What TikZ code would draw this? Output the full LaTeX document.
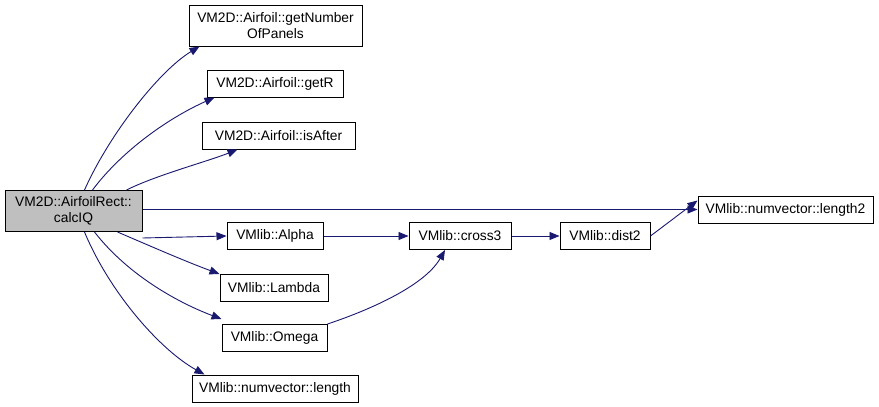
\documentclass[tikz,border=0pt]{standalone}
\usepackage{fontspec}
\setmainfont{Liberation Sans}
\usetikzlibrary{arrows.meta}
\definecolor{edgeblue}{HTML}{191970}
\definecolor{curgray}{HTML}{BFBFBF}
\begin{document}
\begin{tikzpicture}[x=1pt,y=-1pt,
  box/.style={draw=black, line width=1pt, fill=white, inner sep=0pt, align=center,
    font=\fontsize{13.8}{16}\selectfont, minimum height=27pt},
  edge/.style={draw=edgeblue, line width=0.9pt, -{Triangle[length=10pt,width=8pt]}, fill=none},
  ]
\useasboundingbox[fill=white] (0,0) rectangle (879,407);
\node[box, fill=curgray, minimum width=137pt, minimum height=41pt] (calc) at (73.5,211) {VM2D::AirfoilRect::\\calcIQ};
\node[box, minimum width=173pt, minimum height=41pt] (gnop) at (275.5,25.5) {VM2D::Airfoil::getNumber\\OfPanels};
\node[box, minimum width=136pt] (getr) at (275,83.5) {VM2D::Airfoil::getR};
\node[box, minimum width=153pt] (isafter) at (278.5,135.5) {VM2D::Airfoil::isAfter};
\node[box, minimum width=96pt] (alpha) at (275,236) {VMlib::Alpha};
\node[box, minimum width=108pt] (lambda) at (274,288) {VMlib::Lambda};
\node[box, minimum width=105pt] (omega) at (274.5,338) {VMlib::Omega};
\node[box, minimum width=166pt] (length) at (275,388.5) {VMlib::numvector::length};
\node[box, minimum width=102pt] (cross) at (460,236) {VMlib::cross3};
\node[box, minimum width=90pt] (dist) at (605,236) {VMlib::dist2};
\node[box, minimum width=175pt] (length2) at (785.5,209.5) {VMlib::numvector::length2};

\draw[edge] ([xshift=80pt]calc.north west) .. controls +(25,-56) and +(-40,24) .. ([xshift=11pt]gnop.south west);
\draw[edge] ([xshift=88pt]calc.north west) .. controls +(30,-40) and +(-45,20) .. ([xshift=8pt]getr.south west);
\draw[edge] ([xshift=122pt]calc.north west) .. controls +(30,-15) and +(-30,12) .. ([xshift=36pt]isafter.south west);
\draw[edge] (calc.east |- length2.west) -- (length2.west);
\draw[edge] ([yshift=-6pt]calc.south east) -- (alpha.west);
\draw[edge] ([xshift=113pt]calc.south west) .. controls +(35,15) and +(-35,-13) .. (lambda.north west);
\draw[edge] ([xshift=90pt]calc.south west) .. controls +(35,45) and +(-40,-15) .. ([yshift=5pt]omega.north west);
\draw[edge] ([xshift=80pt]calc.south west) .. controls +(25,60) and +(-45,-25) .. ([xshift=13pt]length.north west);
\draw[edge] (alpha.east) -- (cross.west);
\draw[edge] (omega.north east) .. controls +(45,-15) and +(-20,35) .. ([xshift=-15pt]cross.south);
\draw[edge] (cross.east) -- (dist.west);
\draw[edge] (dist.east) -- ([yshift=9pt]length2.west);
\end{tikzpicture}
\end{document}
